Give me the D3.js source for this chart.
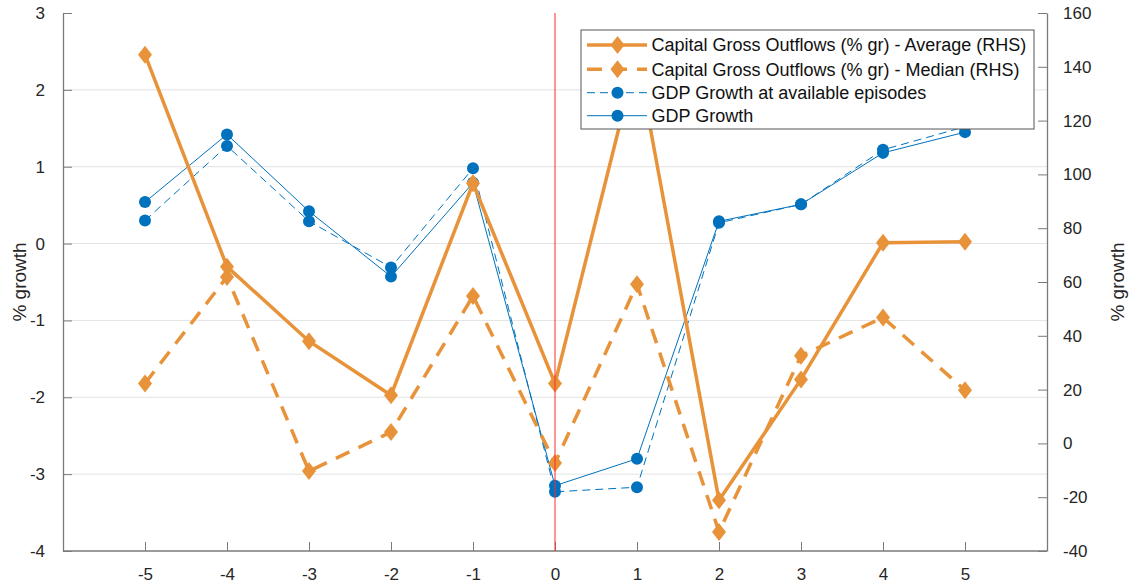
<!DOCTYPE html>
<html>
<head>
<meta charset="utf-8">
<script src="https://cdn.jsdelivr.net/npm/d3@7"></script>
<style>
  html, body { margin: 0; padding: 0; background: #fff; }
  svg { display: block; font-family: "Liberation Sans", Arial, Helvetica, sans-serif; }
</style>
</head>
<body>
<svg id="chart" width="1129" height="587"></svg>
<script>
// Event window (periods relative to the episode)
const periods = [-5, -4, -3, -2, -1, 0, 1, 2, 3, 4, 5];

// GDP growth, % (left axis)
const gdpGrowth      = [0.54, 1.42, 0.42, -0.43, 0.79, -3.15, -2.80, 0.29, 0.51, 1.18, 1.45];
const gdpGrowthAvail = [0.30, 1.27, 0.29, -0.31, 0.98, -3.23, -3.17, 0.27, 0.51, 1.22, 1.52];

// Capital gross outflows, % growth (right axis)
const outflowsAvg    = [144.5, 65.7, 38.0, 17.9, 96.7, 22.3, 144.0, -21.1, 23.8, 74.6, 75.0];
const outflowsMedian = [22.3, 61.9, -10.3, 4.2, 54.8, -7.3, 59.2, -32.9, 32.6, 46.8, 19.8];

// Tick values
const xTicks = [-5, -4, -3, -2, -1, 0, 1, 2, 3, 4, 5];
const leftTicks = [-4, -3, -2, -1, 0, 1, 2, 3];
const rightTicks = [-40, -20, 0, 20, 40, 60, 80, 100, 120, 140, 160];

const legendLabels = [
  "Capital Gross Outflows (% gr) - Average (RHS)",
  "Capital Gross Outflows (% gr) - Median (RHS)",
  "GDP Growth at available episodes",
  "GDP Growth"
];

const ORANGE = "#E8933A";
const BLUE = "#0072BD";
const AXIS = "#7a7a7a";

const svg = d3.select("#chart");
const L = 63, R = 1047, T = 13, B = 551;

const x = d3.scaleLinear().domain([-6, 6]).range([L, R]);
const yL = d3.scaleLinear().domain([-4, 3]).range([B, T]);
const yR = d3.scaleLinear().domain([-40, 160]).range([B, T]);

const fmt = d => String(d);

// Grid lines (left axis)
svg.append("g")
  .selectAll("line")
  .data(leftTicks.filter(v => v > -4 && v < 3))
  .join("line")
  .attr("x1", L).attr("x2", R)
  .attr("y1", d => yL(d)).attr("y2", d => yL(d))
  .attr("stroke", "#e3e3e3").attr("stroke-width", 1);

// Axes
const tickLen = 9;
const xAxis = svg.append("g").attr("transform", `translate(0,${B})`)
  .call(d3.axisBottom(x).tickValues(xTicks).tickFormat(fmt).tickSizeInner(-tickLen).tickSizeOuter(0).tickPadding(17));
const lAxis = svg.append("g").attr("transform", `translate(${L},0)`)
  .call(d3.axisLeft(yL).tickValues(leftTicks).tickFormat(fmt).tickSizeInner(-tickLen).tickSizeOuter(0).tickPadding(18));
const rAxis = svg.append("g").attr("transform", `translate(${R},0)`)
  .call(d3.axisRight(yR).tickValues(rightTicks).tickFormat(fmt).tickSizeInner(-tickLen).tickSizeOuter(0).tickPadding(16));

[xAxis, lAxis, rAxis].forEach(g => {
  g.select(".domain").attr("stroke", AXIS).attr("stroke-width", 1.3);
  g.selectAll(".tick line").attr("stroke", AXIS).attr("stroke-width", 1);
  g.selectAll(".tick text").attr("fill", "#262626").attr("font-size", 17)
    .attr("font-family", "'Liberation Sans', Arial, sans-serif");
});
// bottom axis spans full width
xAxis.select(".domain").attr("d", `M${L},0H${R}`);

// Axis titles
svg.append("text")
  .attr("transform", `translate(26,${(T + B) / 2}) rotate(-90)`)
  .attr("text-anchor", "middle").attr("font-size", 19).attr("fill", "#262626")
  .text("% growth");
svg.append("text")
  .attr("transform", `translate(1124,${(T + B) / 2}) rotate(-90)`)
  .attr("text-anchor", "middle").attr("font-size", 19).attr("fill", "#262626")
  .text("% growth");

// line generators for each axis
const lineL = vals => d3.line().x((d, i) => x(periods[i])).y(d => yL(d))(vals);
const lineR = vals => d3.line().x((d, i) => x(periods[i])).y(d => yR(d))(vals);

function dots(g, vals, scale, color, r) {
  g.selectAll(null).data(vals).join("circle")
    .attr("cx", (d, i) => x(periods[i])).attr("cy", d => scale(d))
    .attr("r", r).attr("fill", color);
}
function diamonds(g, vals, scale, color) {
  g.selectAll(null).data(vals).join("path")
    .attr("d", "M0,-9L7,0L0,9L-7,0Z")
    .attr("transform", (d, i) => `translate(${x(periods[i])},${scale(d)})`)
    .attr("fill", color);
}

// GDP series (left axis)
const gBlue = svg.append("g");
gBlue.append("path").attr("d", lineL(gdpGrowthAvail)).attr("fill", "none")
  .attr("stroke", BLUE).attr("stroke-width", 1).attr("stroke-dasharray", "8,5");
dots(gBlue.append("g"), gdpGrowthAvail, yL, BLUE, 6);
gBlue.append("path").attr("d", lineL(gdpGrowth)).attr("fill", "none")
  .attr("stroke", BLUE).attr("stroke-width", 1);
dots(gBlue.append("g"), gdpGrowth, yL, BLUE, 6);

// Capital outflows (right axis)
const gOr = svg.append("g");
gOr.append("path").attr("d", lineR(outflowsAvg)).attr("fill", "none")
  .attr("stroke", ORANGE).attr("stroke-width", 3.5);
diamonds(gOr.append("g"), outflowsAvg, yR, ORANGE);
gOr.append("path").attr("d", lineR(outflowsMedian)).attr("fill", "none")
  .attr("stroke", ORANGE).attr("stroke-width", 3.5).attr("stroke-dasharray", "15,10");
diamonds(gOr.append("g"), outflowsMedian, yR, ORANGE);

// Episode marker at period 0
svg.append("line")
  .attr("x1", x(0)).attr("x2", x(0)).attr("y1", T).attr("y2", B)
  .attr("stroke", "#ff2a2a").attr("stroke-width", 1);

// Legend
const lg = svg.append("g").attr("transform", "translate(581,30)");
lg.append("rect").attr("width", 453).attr("height", 99)
  .attr("fill", "#fff").attr("stroke", "#555").attr("stroke-width", 1);
const rows = [15, 39.3, 62.7, 85.7];
const styles = [
  { color: ORANGE, w: 3.5, dash: null, mark: "diamond" },
  { color: ORANGE, w: 3.5, dash: "15,10", mark: "diamond" },
  { color: BLUE, w: 1, dash: "8,5", mark: "dot" },
  { color: BLUE, w: 1, dash: null, mark: "dot" }
];
legendLabels.forEach((lab, i) => {
  const s = styles[i];
  const row = lg.append("g").attr("transform", `translate(0,${rows[i]})`);
  row.append("line").attr("x1", 6).attr("x2", 66).attr("y1", 0).attr("y2", 0)
    .attr("stroke", s.color).attr("stroke-width", s.w)
    .attr("stroke-dasharray", s.dash);
  if (s.mark === "diamond") {
    row.append("path").attr("d", "M0,-9L7,0L0,9L-7,0Z")
      .attr("transform", "translate(36.5,0)").attr("fill", s.color);
  } else {
    row.append("circle").attr("cx", 36.5).attr("cy", 0).attr("r", 6).attr("fill", s.color);
  }
  row.append("text").attr("x", 70.5).attr("y", 0).attr("dy", "0.35em")
    .attr("font-size", 18).attr("fill", "#111").text(lab);
});
</script>
</body>
</html>
